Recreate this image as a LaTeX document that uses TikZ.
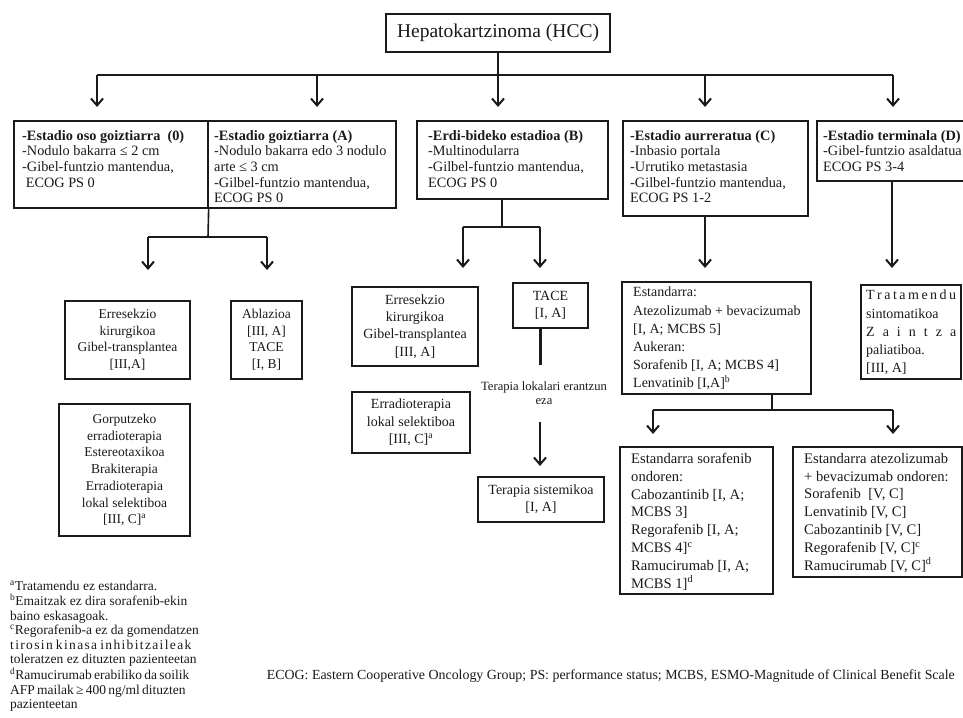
\documentclass[tikz,border=0pt]{standalone}
\usepackage{fontspec}
\setmainfont{Liberation Serif}
\newfontfamily\spacedfont[LetterSpace=10]{Liberation Serif}
\usetikzlibrary{arrows.meta,fit}
\definecolor{ln}{HTML}{1A1A1A}
\newlength\fnw
\newcommand\stfont{\fontsize{14.3}{15.7}\selectfont}
\newcommand\trfont{\fontsize{13.5}{16.7}\selectfont}
\newcommand\tcfont{\fontsize{14}{18.2}\selectfont}
\newcommand\tlfont{\fontsize{14.6}{17.8}\selectfont}
\newcommand\fnfont{\fontsize{13.5}{14.6}\selectfont}
\tikzset{
  box/.style={draw=ln, line width=1.3pt, inner sep=0pt},
  conn/.style={draw=ln, line width=1.6pt},
  arr/.style={conn, -{Straight Barb[length=7pt,width=12pt,line width=2pt]}},
  ltext/.style={anchor=north west, align=left, inner sep=0pt, text=ln},
  ctext/.style={align=center, inner sep=0pt, text=ln, font=\trfont},
}
\begin{document}
\begin{tikzpicture}[x=1pt,y=-1pt]
\useasboundingbox (0,0) rectangle (963,717);
\clip (0,0) rectangle (963,717);
\fill[white] (0,0) rectangle (963,717);

% top
\node[box, fit={(386,14) (610,52)}] (top) {};
\node[inner sep=0pt, text=ln, font=\fontsize{19.5}{21}\selectfont] (topt) at (top.center) {Hepatokartzinoma (HCC)};

\coordinate (hub) at (498,75);
\coordinate (hL) at (97,75);
\coordinate (hR) at (893,75);
\draw[conn] (top.south) -- (hub);
\draw[conn] (hL) -- (hR);
\foreach \x/\n in {97/a0,317/aA,498/aB,705/aC,893/aD}{
  \coordinate (\n s) at (\x,75);
  \coordinate (\n e) at (\x,107);
  \draw[arr] (\n s) -- (\n e);
}

% stage boxes
\node[box, fit={(14,121) (208,208)}] (s0) {};
\node[box, fit={(208,121) (396,208)}] (sA) {};
\node[box, fit={(417,121) (608,199)}] (sB) {};
\node[box, fit={(623,121) (808,216)}] (sC) {};
\node[box, fit={(817,121) (990,181)}] (sD) {};

\node[ltext, font=\stfont] (s0t) at (22,130) {\textbf{-Estadio oso goiztiarra\ \ (0)}\\-Nodulo bakarra ≤ 2 cm\\-Gibel-funtzio mantendua,\\\ ECOG PS 0};
\node[ltext, font=\stfont] (sAt) at (214,130) {\textbf{-Estadio goiztiarra (A)}\\-Nodulo bakarra edo 3 nodulo\\arte ≤ 3 cm\\-Gilbel-funtzio mantendua,\\ECOG PS 0};
\node[ltext, font=\stfont] (sBt) at (428,130) {\textbf{-Erdi-bideko estadioa (B)}\\-Multinodularra\\-Gilbel-funtzio mantendua,\\ECOG PS 0};
\node[ltext, font=\stfont] (sCt) at (630,130) {\textbf{-Estadio aurreratua (C)}\\-Inbasio portala\\-Urrutiko metastasia\\-Gilbel-funtzio mantendua,\\ECOG PS 1-2};
\node[ltext, font=\stfont] (sDt) at (823,130) {\textbf{-Estadio terminala (D)}\\-Gibel-funtzio asaldatua\\ECOG PS 3-4};

% branch 0/A
\coordinate (jA) at (208,237);
\coordinate (jAL) at (148,237);
\coordinate (jAR) at (267,237);
\coordinate (jALe) at (148,270);
\coordinate (jARe) at (267,270);
\draw[conn] (s0.south east) -- (jA);
\draw[conn] (jAL) -- (jAR);
\draw[arr] (jAL) -- (jALe);
\draw[arr] (jAR) -- (jARe);

\node[box, fit={(65,301) (190,379)}] (tA1) {};
\node[ctext] (tA1t) at (tA1.center) {Erresekzio\\kirurgikoa\\Gibel-transplantea\\{[III,A]}};
\node[box, fit={(231,301) (302,379)}] (tA2) {};
\node[ctext] (tA2t) at (tA2.center) {Ablazioa\\{[III, A]}\\TACE\\{[I, B]}};
\node[box, fit={(59,404) (190,536)}] (tA3) {};
\node[ctext] (tA3t) at (tA3.center) {Gorputzeko\\erradioterapia\\Estereotaxikoa\\Brakiterapia\\Erradioterapia\\lokal selektiboa\\{[III, C]\textsuperscript{a}}};

% branch B
\coordinate (jBt) at (502,199);
\coordinate (jB) at (502,227);
\coordinate (jBL) at (463,227);
\coordinate (jBR) at (540,227);
\coordinate (jBLe) at (463,268);
\coordinate (jBRe) at (540,268);
\draw[conn] (jBt) -- (jB);
\draw[conn] (jBL) -- (jBR);
\draw[arr] (jBL) -- (jBLe);
\draw[arr] (jBR) -- (jBRe);

\node[box, fit={(352,287) (478,366)}] (tB1) {};
\node[ctext, font=\fontsize{14}{17.4}\selectfont] (tB1t) at (tB1.center) {Erresekzio\\kirurgikoa\\Gibel-transplantea\\{[III, A]}};
\node[box, fit={(352,392) (470,453)}] (tB3) {};
\node[ctext, font=\fontsize{14}{17.4}\selectfont] (tB3t) at (tB3.center) {Erradioterapia\\lokal selektiboa\\{[III, C]\textsuperscript{a}}};
\node[box, fit={(513,283) (588,328)}] (tB2) {};
\node[ctext, font=\fontsize{14}{17.4}\selectfont] (tB2t) at (tB2.center) {TACE\\{[I, A]}};
\coordinate (tBl1) at (540,328);
\coordinate (tBl2) at (540,365);
\draw[draw=ln, line width=3pt] (tBl1) -- (tBl2);
\node[ctext, font=\fontsize{12.6}{14}\selectfont] (lbl) at (544,393) {Terapia lokalari erantzun\\eza};
\coordinate (tBa1) at (540,422);
\coordinate (tBa2) at (540,466);
\draw[arr] (tBa1) -- (tBa2);
\node[box, fit={(478,477) (604,522)}] (tB4) {};
\node[ctext, font=\fontsize{14}{17.4}\selectfont] (tB4t) at (tB4.center) {Terapia sistemikoa\\{[I, A]}};

% C
\coordinate (aCs) at (705,216);
\coordinate (aCe) at (705,268);
\draw[arr] (aCs) -- (aCe);
\node[box, fit={(622,282) (811,394)}] (tC) {};
\node[ltext, font=\tcfont] (tCt) at (633,287) {Estandarra:\\Atezolizumab + bevacizumab\\{[I, A; MCBS 5]}\\Aukeran:\\Sorafenib [I, A; MCBS 4]\\Lenvatinib [I,A]\textsuperscript{b}};

\coordinate (jCt) at (772,394);
\coordinate (jC) at (772,410);
\coordinate (jCL) at (653,410);
\coordinate (jCR) at (893,410);
\coordinate (jCLe) at (653,434);
\coordinate (jCRe) at (893,434);
\draw[conn] (jCt) -- (jC);
\draw[conn] (jCL) -- (jCR);
\draw[arr] (jCL) -- (jCLe);
\draw[arr] (jCR) -- (jCRe);

\node[box, fit={(620,447) (773,594)}] (tC1) {};
\node[ltext, font=\tlfont] (tC1t) at (631,453) {Estandarra sorafenib\\ondoren:\\Cabozantinib [I, A;\\MCBS 3]\\Regorafenib [I, A;\\MCBS 4]\textsuperscript{c}\\Ramucirumab [I, A;\\MCBS 1]\textsuperscript{d}};
\node[box, fit={(793,447) (962,577)}] (tC2) {};
\node[ltext, font=\tlfont] (tC2t) at (804,453) {Estandarra atezolizumab\\+ bevacizumab ondoren:\\Sorafenib\ \ [V, C]\\Lenvatinib [V, C]\\Cabozantinib [V, C]\\Regorafenib [V, C]\textsuperscript{c}\\Ramucirumab [V, C]\textsuperscript{d}};

% D
\coordinate (aDs) at (892,181);
\coordinate (aDe) at (892,268);
\draw[arr] (aDs) -- (aDe);
\node[box, fit={(861,285) (961,379)}] (tD) {};
\node[ltext, font=\tcfont] (tDt) at (866,290) {\hbox to 90pt{T\hfill r\hfill a\hfill t\hfill a\hfill m\hfill e\hfill n\hfill d\hfill u}\\sintomatikoa\\\hbox to 90pt{Z\hfill a\hfill i\hfill n\hfill t\hfill z\hfill a}\\paliatiboa.\\{[III, A]}};

% footnotes
\settowidth{\fnw}{\fnfont toleratzen ez dituzten pazienteetan}
\node[ltext, font=\fnfont] (fn) at (10,581) {\textsuperscript{a}Tratamendu ez estandarra.\\
\textsuperscript{b}Emaitzak ez dira sorafenib-ekin\\
baino eskasagoak.\\
\textsuperscript{c}Regorafenib-a ez da gomendatzen\\
\makebox[\fnw][s]{\spacedfont tirosin kinasa inhibitzaileak}\\
toleratzen ez dituzten pazienteetan\\
\makebox[\fnw][s]{\textsuperscript{d}Ramucirumab erabiliko da soilik}\\
\makebox[\fnw][s]{AFP mailak ≥ 400 ng/ml dituzten}\\
pazienteetan};

\node[anchor=base east, inner sep=0pt, text=ln, font=\fontsize{13.9}{15}\selectfont] (abbr) at (955,679) {ECOG: Eastern Cooperative Oncology Group; PS: performance status; MCBS, ESMO-Magnitude of Clinical Benefit Scale};
\end{tikzpicture}
\end{document}
